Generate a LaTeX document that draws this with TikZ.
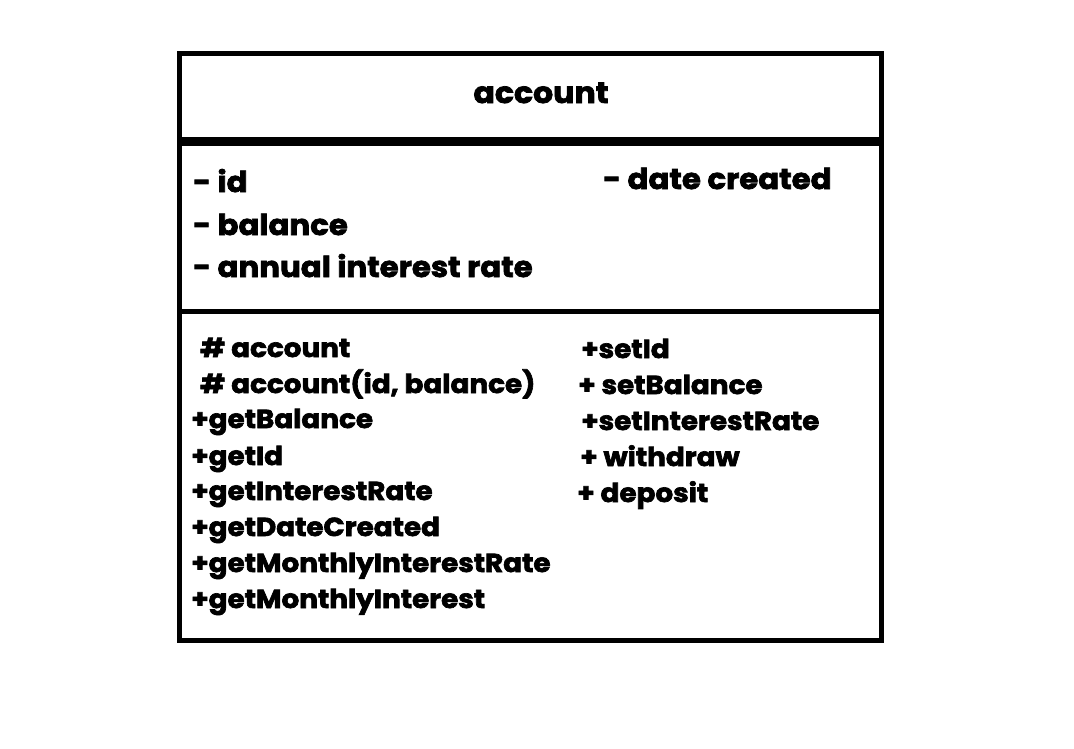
\documentclass[tikz,border=0pt]{standalone}
\usepackage{fontspec}
\setmainfont{Poppins}[FakeStretch=1.07,BoldFeatures={FakeBold=2.5}]
\begin{document}
\begin{tikzpicture}[x=1pt,y=-1pt,
  attr/.style={anchor=base west,inner sep=0pt,font=\fontsize{28.8}{30}\selectfont\bfseries},
  meth/.style={anchor=base west,inner sep=0pt,font=\fontsize{26}{28}\selectfont\bfseries},
  frame/.style={draw=black,line width=5pt}]
\useasboundingbox (0,0) rectangle (1074,748);
\fill[white] (0,0) rectangle (1074,748);
\coordinate (tl) at (179.5,53.5);
\coordinate (br) at (881.5,640);
\draw[frame] (tl) rectangle (br);
\draw[black,line width=9pt] (179.5,141.5) -- (881.5,141.5);
\draw[frame] (179.5,311.5) -- (881.5,311.5);
\node[anchor=base,inner sep=0pt,font=\fontsize{29.5}{30}\selectfont\bfseries] (title) at (541,103) {account};
\node[attr] (a1) at (193,192) {- id};
\node[attr] (a2) at (193,235) {- balance};
\node[attr] (a3) at (193,277) {- annual interest rate};
\node[attr] (a4) at (603,189) {- date created};
\node[meth] (m1) at (200,357) {\# account};
\node[meth] (m2) at (200,393) {\# account(id, balance)};
\node[meth] (m3) at (191,428) {+getBalance};
\node[meth] (m4) at (191,465) {+getId};
\node[meth] (m5) at (191,500) {+getInterestRate};
\node[meth] (m6) at (191,536) {+getDateCreated};
\node[meth] (m7) at (191,572) {+getMonthlyInterestRate};
\node[meth] (m8) at (191,608) {+getMonthlyInterest};
\node[meth] (s1) at (581,358) {+setId};
\node[meth] (s2) at (578,394) {+ setBalance};
\node[meth] (s3) at (581,430) {+setInterestRate};
\node[meth] (s4) at (580,466) {+ withdraw};
\node[meth] (s5) at (577,502) {+ deposit};
\end{tikzpicture}
\end{document}
